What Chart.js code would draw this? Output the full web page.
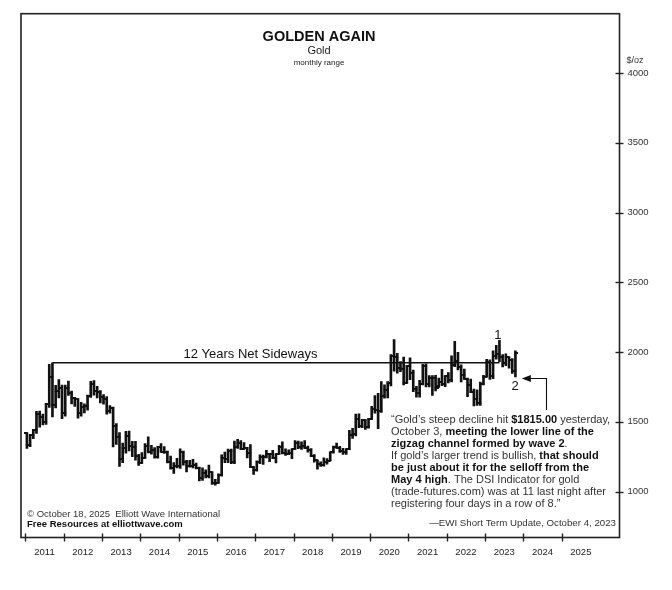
<!DOCTYPE html>
<html><head><meta charset="utf-8">
<script src="https://cdn.jsdelivr.net/npm/chart.js@4.4.0/dist/chart.umd.min.js"></script>
<style>html,body{margin:0;padding:0;background:#fff}#wrap{width:672px;height:590px}</style>
</head><body><div id="wrap"><canvas id="c" width="672" height="590"></canvas></div>
<script>
// Monthly gold (USD/oz), Jan 2011 .. Oct 2023
const yearLabels = ['2011','2012','2013','2014','2015','2016','2017','2018','2019','2020','2021','2022','2023','2024','2025'];
const yTicks = [1000,1500,2000,2500,3000,3500,4000];
const opens = [
 1421,1332,1409,1439,1556,1536,1500,1628,1825,1620,1722,1746,
 1566,1740,1710,1669,1664,1560,1604,1615,1685,1772,1720,1714,
 1675,1663,1578,1597,1472,1393,1234,1313,1396,1327,1323,1253,
 1202,1240,1326,1284,1296,1250,1322,1282,1286,1209,1171,1182,
 1183,1283,1213,1183,1183,1190,1172,1095,1132,1115,1142,1065,
 1061,1118,1238,1233,1292,1215,1322,1351,1309,1316,1274,1173,
 1152,1211,1249,1249,1268,1268,1242,1268,1322,1280,1271,1275,
 1303,1345,1318,1325,1315,1299,1253,1224,1201,1192,1215,1222,
 1282,1321,1313,1292,1284,1305,1409,1413,1520,1472,1513,1464,
 1517,1589,1585,1577,1686,1730,1781,1975,1968,1886,1879,1777,
 1898,1847,1734,1707,1769,1903,1770,1814,1813,1757,1783,1774,
 1829,1797,1909,1937,1896,1837,1807,1766,1711,1661,1633,1768,
 1824,1928,1826,1969,1990,1962,1919,1965,1940,1866];
const highs = [
 1424,1411,1447,1575,1577,1556,1632,1913,1923,1761,1803,1763,
 1764,1792,1720,1676,1667,1640,1630,1692,1790,1796,1755,1725,
 1695,1682,1617,1606,1488,1424,1348,1433,1434,1361,1361,1267,
 1280,1345,1392,1331,1315,1325,1345,1322,1290,1255,1208,1238,
 1307,1290,1224,1224,1232,1205,1175,1170,1157,1191,1142,1088,
 1128,1263,1283,1304,1304,1362,1375,1366,1352,1318,1338,1180,
 1220,1264,1262,1296,1273,1296,1272,1331,1357,1306,1299,1306,
 1366,1362,1356,1365,1326,1309,1266,1224,1214,1243,1237,1284,
 1326,1347,1324,1310,1306,1439,1453,1555,1557,1519,1516,1525,
 1611,1689,1704,1788,1765,1789,1983,2089,1992,1933,1965,1906,
 1959,1872,1755,1798,1913,1916,1832,1831,1834,1814,1877,1831,
 1853,1974,2078,1998,1909,1879,1814,1807,1735,1730,1786,1833,
 1949,1945,2009,2048,2085,1983,1987,1966,1953,2009];
const lows = [
 1309,1323,1380,1417,1462,1478,1481,1604,1535,1600,1671,1523,
 1540,1690,1628,1611,1527,1540,1564,1583,1675,1692,1672,1635,
 1627,1555,1562,1321,1339,1180,1208,1275,1292,1251,1226,1187,
 1202,1238,1277,1268,1240,1240,1282,1273,1206,1161,1131,1170,
 1167,1190,1142,1175,1169,1162,1077,1080,1098,1098,1052,1046,
 1061,1111,1208,1207,1200,1200,1310,1301,1304,1241,1171,1123,
 1146,1200,1195,1241,1214,1236,1205,1267,1271,1260,1264,1236,
 1302,1307,1303,1310,1282,1250,1211,1160,1180,1182,1196,1221,
 1276,1311,1281,1266,1267,1300,1381,1400,1459,1459,1445,1455,
 1517,1563,1451,1567,1670,1671,1757,1863,1849,1860,1764,1775,
 1803,1717,1677,1677,1765,1750,1750,1690,1721,1746,1759,1753,
 1780,1786,1895,1872,1787,1805,1681,1709,1615,1618,1617,1765,
 1823,1805,1810,1950,1932,1893,1903,1885,1848,1823];
const closes = [
 1332,1409,1439,1556,1536,1500,1628,1825,1620,1722,1746,1566,
 1740,1710,1669,1664,1560,1604,1615,1685,1772,1720,1714,1675,
 1663,1578,1597,1472,1393,1234,1313,1396,1327,1323,1253,1202,
 1240,1326,1284,1296,1250,1322,1282,1286,1209,1171,1182,1183,
 1283,1213,1183,1183,1190,1172,1095,1132,1115,1142,1065,1061,
 1118,1238,1233,1292,1215,1322,1351,1309,1316,1274,1173,1152,
 1211,1249,1249,1268,1268,1242,1268,1322,1280,1271,1275,1303,
 1345,1318,1325,1315,1299,1253,1224,1201,1192,1215,1222,1282,
 1321,1313,1292,1284,1305,1409,1413,1520,1472,1513,1464,1517,
 1589,1585,1577,1686,1730,1781,1975,1968,1886,1879,1777,1898,
 1847,1734,1707,1769,1903,1770,1814,1813,1743,1783,1774,1829,
 1797,1909,1937,1896,1837,1807,1766,1711,1661,1633,1768,1824,
 1928,1826,1969,1990,1962,1919,1965,1940,1866,1994];
// "12 Years Net Sideways" line: from Sep 2011 high to May 2023
const sidewaysLevel = 1924;
const sidewaysStart = 8, sidewaysEnd = 148;
const wave1 = {month: 148, value: 2119};
const wave2 = {month: 153.4, value: 1757};
const arrowTip = {month: 155.5, value: 1815};
const arrowTail = {month: 163.2, value: 1815};

const FONT = '"Liberation Sans", Arial, Helvetica, sans-serif';

function tickCanvas(side){
  const c=document.createElement('canvas'); c.width=6; c.height=2;
  const g=c.getContext('2d'); g.fillStyle='#111';
  if(side<0) g.fillRect(0,0,3.6,2); else g.fillRect(2.4,0,3.6,2);
  return c;
}
const leftTick = tickCanvas(-1), rightTick = tickCanvas(1);

const rangeData = highs.map((h,i)=>({x:i+0.5, y:[lows[i], h]}));
const openData = opens.map((o,i)=>({x:i+0.5, y:o}));
const closeData = closes.map((c,i)=>({x:i+0.5, y:c}));

function richLine(ctx, x, y, segs, size){
  let cx = x;
  for(const [t,b] of segs){
    ctx.font = (b?'bold ':'') + size + 'px ' + FONT;
    ctx.fillStyle = b ? '#111' : '#333';
    ctx.fillText(t, cx, y);
    cx += ctx.measureText(t).width;
  }
}

const decor = {
  id:'decor',
  afterDraw(chart){
    const ctx = chart.ctx, ca = chart.chartArea;
    const xs = chart.scales.x, ys = chart.scales.y;
    ctx.save();
    // frame
    ctx.strokeStyle='#222'; ctx.lineWidth=1.6;
    ctx.strokeRect(ca.left, ca.top, ca.right-ca.left, ca.bottom-ca.top);
    // x ticks at year starts
    ctx.lineWidth=1.4;
    for(let k=0;k<yearLabels.length;k++){
      const px = Math.round(xs.getPixelForValue(12*k))+0.5;
      ctx.beginPath(); ctx.moveTo(px, ca.bottom-4); ctx.lineTo(px, ca.bottom+4); ctx.stroke();
    }
    // y ticks
    for(const v of yTicks){
      const py = Math.round(ys.getPixelForValue(v))+0.5;
      ctx.beginPath(); ctx.moveTo(ca.right-4, py); ctx.lineTo(ca.right+4, py); ctx.stroke();
    }
    ctx.textBaseline='middle';
    ctx.fillStyle='#333'; ctx.font='9px '+FONT; ctx.textAlign='left';
    ctx.fillText('$/oz', ca.right+7, ys.getPixelForValue(4000)-13);
    // titles
    ctx.textAlign='center'; ctx.fillStyle='#111';
    ctx.font='bold 14.5px '+FONT; ctx.fillText('GOLDEN AGAIN', 319, 37);
    ctx.font='11px '+FONT; ctx.fillStyle='#222'; ctx.fillText('Gold', 319, 51);
    ctx.font='8px '+FONT; ctx.fillText('monthly range', 319, 63);
    // sideways label
    ctx.font='13px '+FONT; ctx.fillStyle='#111';
    ctx.fillText('12 Years Net Sideways', 250.5, 354);
    // wave labels
    ctx.font='13px '+FONT;
    ctx.fillText('1', xs.getPixelForValue(wave1.month), ys.getPixelForValue(wave1.value));
    ctx.fillText('2', xs.getPixelForValue(wave2.month), ys.getPixelForValue(wave2.value));
    // arrow
    const tx = xs.getPixelForValue(arrowTip.month), ty = Math.round(ys.getPixelForValue(arrowTip.value))+0.5;
    const rx = Math.round(xs.getPixelForValue(arrowTail.month))+0.5;
    ctx.strokeStyle='#111'; ctx.lineWidth=1.1;
    ctx.beginPath(); ctx.moveTo(tx+7, ty); ctx.lineTo(rx, ty); ctx.lineTo(rx, 410); ctx.stroke();
    ctx.fillStyle='#111';
    ctx.beginPath(); ctx.moveTo(tx, ty); ctx.lineTo(tx+9, ty-3.5); ctx.lineTo(tx+9, ty+3.5); ctx.closePath(); ctx.fill();
    // quote
    ctx.textAlign='left';
    const qs = 11, qx = 391, qy0 = 420, dq = 12.05;
    const lines = [
      [['\u201cGold\u2019s steep decline hit ',0],['$1815.00',1],[' yesterday,',0]],
      [['October 3, ',0],['meeting the lower line of the',1]],
      [['zigzag channel formed by wave 2',1],['.',0]],
      [['If gold\u2019s larger trend is bullish, ',0],['that should',1]],
      [['be just about it for the selloff from the',1]],
      [['May 4 high',1],['. The DSI Indicator for gold',0]],
      [['(trade-futures.com) was at 11 last night after',0]],
      [['registering four days in a row of 8.\u201d',0]]
    ];
    lines.forEach((l,i)=>richLine(ctx, qx, qy0 + i*dq, l, qs));
    ctx.textAlign='right'; ctx.font='9.7px '+FONT; ctx.fillStyle='#333';
    ctx.fillText('\u2014EWI Short Term Update, October 4, 2023', 616, 523.5);
    // copyright
    ctx.textAlign='left'; ctx.font='9.5px '+FONT; ctx.fillStyle='#333';
    ctx.fillText('\u00a9 October 18, 2025  Elliott Wave International', 27, 514);
    ctx.font='bold 9.5px '+FONT; ctx.fillStyle='#111';
    ctx.fillText('Free Resources at elliottwave.com', 27, 524.5);
    ctx.restore();
  }
};

new Chart(document.getElementById('c'), {
  type:'bar',
  data:{datasets:[
    {type:'bar', data:rangeData, backgroundColor:'#111', borderWidth:0, barThickness:2, order:3},
    {type:'line', data:openData, showLine:false, pointStyle:leftTick, pointRadius:3, order:2},
    {type:'line', data:closeData, showLine:false, pointStyle:rightTick, pointRadius:3, order:1},
    {type:'line', data:[{x:sidewaysStart+0.5,y:sidewaysLevel},{x:sidewaysEnd+0.5,y:sidewaysLevel}],
      borderColor:'#111', borderWidth:1.4, pointRadius:0, order:4}
  ]},
  options:{
    responsive:false, animation:false, devicePixelRatio:1,
    layout:{padding:{left:21, top:12, right:0, bottom:0}},
    plugins:{legend:{display:false}, tooltip:{enabled:false}, title:{display:false}},
    scales:{
      x:{type:'linear', min:-1.35, max:186.1, offset:false,
        grid:{display:false, drawTicks:false}, border:{display:false},
        afterBuildTicks:s=>{ s.ticks = yearLabels.map((l,k)=>({value:6+12*k})); },
        ticks:{callback:(v,i)=>yearLabels[i], autoSkip:false, maxRotation:0, padding:9,
          color:'#222', font:{family:FONT, size:9.5}},
        afterFit:s=>{ s.height = 52.5; }
      },
      y:{type:'linear', position:'right', min:671, max:4426,
        grid:{display:false, drawTicks:false}, border:{display:false},
        afterBuildTicks:s=>{ s.ticks = yTicks.map(v=>({value:v})); },
        ticks:{callback:v=>String(v), padding:8, color:'#333', font:{family:FONT, size:9.5}},
        afterFit:s=>{ s.width = 52.5; }
      }
    }
  },
  plugins:[decor]
});
</script></body></html>
